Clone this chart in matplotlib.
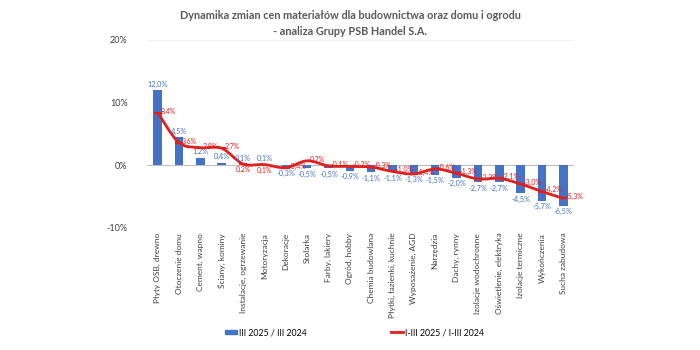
import matplotlib
matplotlib.use("Agg")
import matplotlib.pyplot as plt
from matplotlib.path import Path
from matplotlib.patches import PathPatch, Patch
from matplotlib.lines import Line2D
import numpy as np

plt.rcParams['font.family'] = ['Lato', 'DejaVu Sans']

categories = ["Płyty OSB, drewno", "Otoczenie domu", "Cement, wapno", "Ściany, kominy",
              "Instalacje, ogrzewanie", "Motoryzacja", "Dekoracje", "Stolarka",
              "Farby, lakiery", "Ogród, hobby", "Chemia budowlana", "Płytki, łazienki, kuchnie",
              "Wyposażenie, AGD", "Narzędzia", "Dachy, rynny", "Izolacje wodochronne",
              "Oświetlenie, elektryka", "Izolacje termiczne", "Wykończenia", "Sucha zabudowa"]
march = [12.0, 4.5, 1.2, 0.4, 0.1, 0.1, -0.3, -0.5, -0.5, -0.9, -1.1, -1.1,
         -1.3, -1.5, -2.0, -2.7, -2.7, -4.5, -5.7, -6.5]
q1 = [8.4, 3.6, 2.8, 2.7, 0.2, 0.1, -0.4, 0.7, -0.1, -0.2, -0.3, -1.0,
      -1.4, -0.6, -1.3, -2.2, -2.1, -3.0, -4.2, -5.3]

blue = '#4472C4'
red = '#E0201E'

fig = plt.figure(figsize=(7, 3.5), dpi=100)
ax = fig.add_axes([0.21, 0.349, 0.61, 0.537])
x = np.arange(len(categories))

ax.bar(x, march, width=0.4, color=blue, zorder=2)

# wygładzona linia (Catmull-Rom -> Bezier), jak w Excelu
y = np.array(q1)
verts = [(x[0], y[0])]
codes = [Path.MOVETO]
for i in range(len(x) - 1):
    p0 = np.array([x[max(i - 1, 0)], y[max(i - 1, 0)]])
    p1 = np.array([x[i], y[i]])
    p2 = np.array([x[i + 1], y[i + 1]])
    p3 = np.array([x[min(i + 2, len(x) - 1)], y[min(i + 2, len(x) - 1)]])
    c1 = p1 + (p2 - p0) / 6
    c2 = p2 - (p3 - p1) / 6
    verts += [tuple(c1), tuple(c2), tuple(p2)]
    codes += [Path.CURVE4] * 3
ax.add_patch(PathPatch(Path(verts, codes), fill=False, edgecolor=red, lw=2, zorder=3))
ax.plot(x, y, linestyle='none', marker='_', color=red, markersize=6, mew=1.5, zorder=4)

for xi, v in zip(x, march):
    lab = f"{v:.1f}%".replace('.', ',')
    if v >= 0:
        ax.text(xi, v + 0.4, lab, ha='center', va='bottom', fontsize=5.3, color=blue)
    else:
        ax.text(xi, v - 0.4, lab, ha='center', va='top', fontsize=5.3, color=blue)
for i, (xi, v) in enumerate(zip(x, q1)):
    lab = f"{v:.1f}%".replace('.', ',')
    if i in (4, 5):
        # pod linią, żeby nie nachodziło na etykiety słupków
        ax.text(xi, v - 0.9, lab, ha='center', va='center', fontsize=5, color=red)
    else:
        ax.text(xi + 0.12, v + 0.25, lab, ha='left', va='center', fontsize=5, color=red)

ax.set_xlim(-0.5, len(categories) - 0.5)
ax.set_ylim(-10, 20)
ax.set_yticks([-10, 0, 10, 20])
ax.set_yticklabels(['-10%', '0%', '10%', '20%'], fontsize=6.5, color='#404040')
ax.axhline(0, color='#BFBFBF', lw=0.8, zorder=1)
ax.axhline(20, color='#EEEEEE', lw=0.6, zorder=1)
ax.tick_params(axis='y', length=0, pad=14)
ax.tick_params(axis='x', length=0)
ax.set_xticks([])
for s in ax.spines.values():
    s.set_visible(False)

for xi, c in zip(x, categories):
    ax.text(xi, -10.8, c, rotation=90, ha='center', va='top', fontsize=6, color='#404040')

fig.text(0.5, 0.955, "Dynamika zmian cen materiałów dla budownictwa oraz domu i ogrodu",
         ha='center', va='center', fontsize=7.8, fontweight='bold', color='#595959')
fig.text(0.5, 0.91, "- analiza Grupy PSB Handel S.A.",
         ha='center', va='center', fontsize=7.8, fontweight='bold', color='#595959')

# legenda
h1 = Patch(color=blue)
h2 = Line2D([0], [0], color=red, lw=2)
fig.legend([h1], ["III 2025 / III 2024"], loc='center', bbox_to_anchor=(0.38, 0.05),
           frameon=False, fontsize=6.3, handlelength=1.4, handleheight=0.4, handletextpad=0.2)
fig.legend([h2], ["I-III 2025 / I-III 2024"], loc='center', bbox_to_anchor=(0.625, 0.05),
           frameon=False, fontsize=6.3, handlelength=1.4, handletextpad=0.2)

fig.savefig('out.png', dpi=100, facecolor='white')
